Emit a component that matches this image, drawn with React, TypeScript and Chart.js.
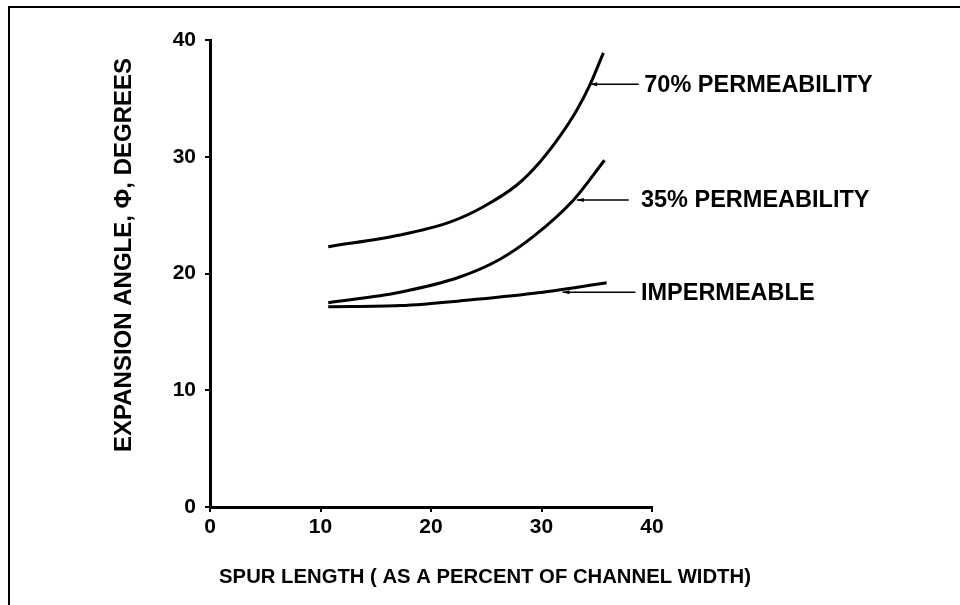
import React, { useEffect, useRef } from "react";
import { Chart, registerables } from "chart.js";

Chart.register(...registerables);

// Data
const impX = [10.7, 17.2, 23.2, 29.3, 35.9];
const impY = [17.15, 17.25, 17.7, 18.3, 19.2];

const p35X = [10.7, 17.2, 22.6, 26.2, 29.3, 32.9, 35.7];
const p35Y = [17.5, 18.4, 19.7, 21.2, 23.2, 26.3, 29.7];

const p70X = [10.7, 17.2, 21.7, 24.7, 27.8, 29.9, 31.7, 33.2, 34.4, 35.6];
const p70Y = [22.3, 23.3, 24.4, 25.7, 27.6, 29.6, 31.8, 34.0, 36.2, 38.9];

const xTicks = [0, 10, 20, 30, 40];
const yTicks = [0, 10, 20, 30, 40];

const curveLabels = ["70% PERMEABILITY", "35% PERMEABILITY", "IMPERMEABLE"];
const labelAnchorX = [34.4, 33.2, 31.9];
const labelAnchorY = [36.2, 26.3, 18.4];
const leaderEndX = [38.8, 37.9, 38.5];
const labelTextX = [39.3, 39.0, 39.0];

const xTitle = "SPUR LENGTH ( AS A PERCENT OF CHANNEL WIDTH)";
const yTitle = "EXPANSION ANGLE, \u03A6, DEGREES";

const FONT = "'Liberation Sans', Arial, Helvetica, sans-serif";

const pairs = (xs: number[], ys: number[]) => xs.map((x, i) => ({ x, y: ys[i] }));

const overlayPlugin = {
  id: "overlay",
  afterDraw(chart: any) {
    const { ctx, chartArea, scales } = chart;
    const xs = scales.x;
    const ys = scales.y;
    ctx.save();
    ctx.fillStyle = "#000";
    ctx.strokeStyle = "#000";
    // curve labels with leader lines
    ctx.font = `bold 23.5px ${FONT}`;
    ctx.textBaseline = "middle";
    ctx.textAlign = "left";
    ctx.lineWidth = 1.5;
    curveLabels.forEach((t, i) => {
      const ax = xs.getPixelForValue(labelAnchorX[i]);
      const ay = ys.getPixelForValue(labelAnchorY[i]);
      const ex = xs.getPixelForValue(leaderEndX[i]);
      ctx.beginPath();
      ctx.moveTo(ax, ay);
      ctx.lineTo(ex, ay);
      ctx.stroke();
      ctx.beginPath();
      ctx.moveTo(ax, ay);
      ctx.lineTo(ax + 7, ay - 2);
      ctx.lineTo(ax + 7, ay + 2);
      ctx.closePath();
      ctx.fill();
      ctx.fillText(t, xs.getPixelForValue(labelTextX[i]), ay + 1);
    });
    // x title
    ctx.font = `bold 20.3px ${FONT}`;
    ctx.textAlign = "center";
    ctx.fillText(xTitle, chartArea.left + 275, chartArea.bottom + 70);
    // y title
    ctx.font = `bold 24px ${FONT}`;
    ctx.translate(chartArea.left - 86, chartArea.top + 215);
    ctx.rotate(-Math.PI / 2);
    ctx.fillText(yTitle, 0, 0);
    ctx.restore();
  },
};

export default function App() {
  const ref = useRef<HTMLCanvasElement | null>(null);
  useEffect(() => {
    if (!ref.current) return;
    const lineDs = (label: string, xs: number[], ys: number[]) => ({
      label,
      data: pairs(xs, ys),
      borderColor: "#000",
      borderWidth: 3,
      pointRadius: 0,
      cubicInterpolationMode: "monotone" as const,
      fill: false,
    });
    const chart = new Chart(ref.current, {
      type: "line",
      data: {
        datasets: [
          lineDs("70% PERMEABILITY", p70X, p70Y),
          lineDs("35% PERMEABILITY", p35X, p35Y),
          lineDs("IMPERMEABLE", impX, impY),
        ],
      },
      options: {
        responsive: false,
        animation: false,
        layout: { padding: { left: 0, top: 40, right: 308, bottom: 0 } },
        plugins: { legend: { display: false }, tooltip: { enabled: false } },
        scales: {
          x: {
            type: "linear",
            min: 0,
            max: 40,
            afterBuildTicks: (s: any) => {
              s.ticks = xTicks.map((v) => ({ value: v }));
            },
            afterFit: (s: any) => {
              s.height = 98;
            },
            ticks: {
              color: "#000",
              font: { family: FONT, size: 21, weight: "bold" },
              padding: 3,
              maxRotation: 0,
            },
            grid: { drawOnChartArea: false, drawTicks: true, tickLength: 5, color: "#000", lineWidth: 2 },
            border: { display: true, color: "#000", width: 3 },
          },
          y: {
            type: "linear",
            min: 0,
            max: 40,
            afterBuildTicks: (s: any) => {
              s.ticks = yTicks.map((v) => ({ value: v }));
            },
            afterFit: (s: any) => {
              s.width = 210;
            },
            ticks: {
              color: "#000",
              font: { family: FONT, size: 21, weight: "bold" },
              padding: 9,
            },
            grid: { drawOnChartArea: false, drawTicks: true, tickLength: 5, color: "#000", lineWidth: 2 },
            border: { display: true, color: "#000", width: 3 },
          },
        },
      },
      plugins: [overlayPlugin],
    });
    return () => chart.destroy();
  }, []);
  return (
    <div style={{ position: "fixed", left: 0, top: 0, width: 960, height: 605, background: "#fff" }}>
      <div
        style={{
          position: "absolute",
          left: 8,
          top: 6,
          right: 0,
          bottom: 0,
          borderTop: "2px solid #000",
          borderLeft: "2px solid #000",
        }}
      />
      <canvas ref={ref} width={960} height={605} style={{ position: "absolute", left: 0, top: 0 }} />
    </div>
  );
}
